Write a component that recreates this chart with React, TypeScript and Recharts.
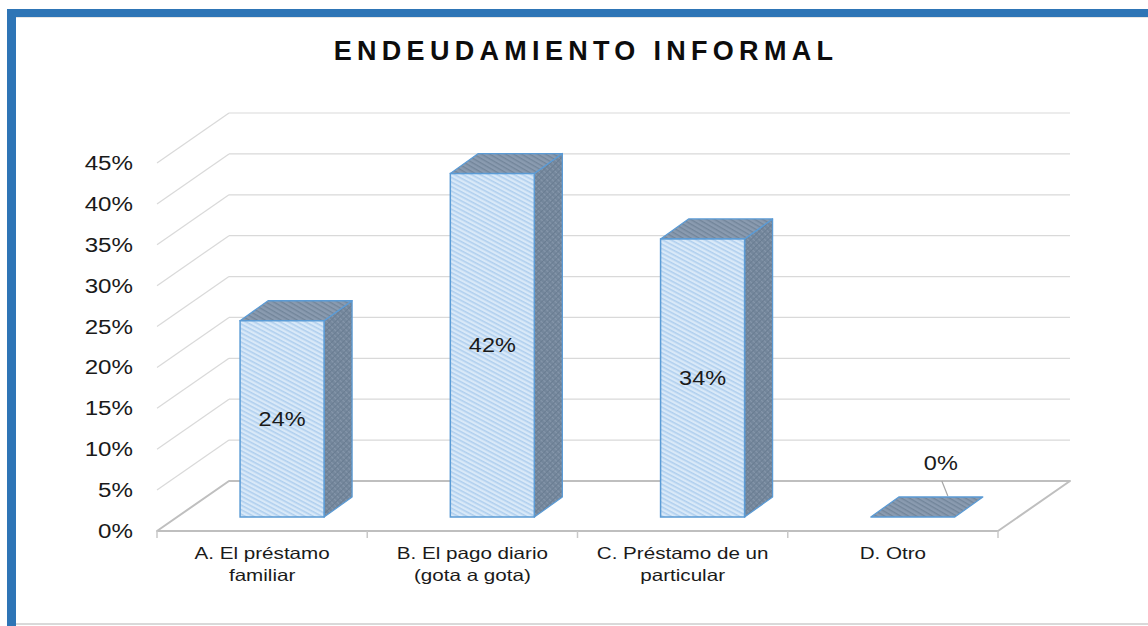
import { BarChart, Bar, XAxis, YAxis, CartesianGrid } from "recharts";

const FONT = '"Liberation Sans", Arial, sans-serif';

const categories = [
  "A. El préstamo\nfamiliar",
  "B. El pago diario\n(gota a gota)",
  "C. Préstamo de un\nparticular",
  "D. Otro",
];
const values = [0.24, 0.42, 0.34, 0];
const yTicks = [0, 0.05, 0.1, 0.15, 0.2, 0.25, 0.3, 0.35, 0.4, 0.45];

const rows = categories.map((cat, i) => ({ cat, value: values[i] }));

// 3D projection: full depth of the walls, and where the boxes sit inside it
const WALL_DX = 72;
const WALL_DY = -50;
const FRONT_DX = 20;
const FRONT_DY = -14;
const BOX_DX = 28;
const BOX_DY = -20;

const CHART_W = 1148;
const CHART_H = 626;
const X_AXIS_H = 60;
const MARGIN = { top: 163, right: 150, bottom: 35, left: 97 };
const PLOT_BOTTOM = CHART_H - MARGIN.bottom - X_AXIS_H;

const pct = (v: number) => `${Math.round(v * 100)}%`;

function WallLine(props: any) {
  const { x1, y1, x2, y2, index } = props;
  const isFloor = Math.abs(y1 - PLOT_BOTTOM) < 1;
  if (isFloor) {
    return (
      <g key={`floor-${index}`}>
        <polygon
          points={`${x1},${y1} ${x1 + WALL_DX},${y1 + WALL_DY} ${x2 + WALL_DX},${y2 + WALL_DY} ${x2},${y2}`}
          fill="#ffffff"
          stroke="#bfbfbf"
          strokeWidth={2}
          strokeLinejoin="round"
        />
      </g>
    );
  }
  return (
    <g key={`grid-${index}`}>
      <line x1={x1} y1={y1} x2={x1 + WALL_DX} y2={y1 + WALL_DY} stroke="#d9d9d9" strokeWidth={1.2} />
      <line
        x1={x1 + WALL_DX}
        y1={y1 + WALL_DY}
        x2={x2 + WALL_DX}
        y2={y2 + WALL_DY}
        stroke="#d9d9d9"
        strokeWidth={1.2}
      />
    </g>
  );
}

function YTick({ x, y, payload }: any) {
  return (
    <text
      transform={`translate(${x},${y}) scale(1.15,1)`}
      textAnchor="end"
      dominantBaseline="central"
      fontSize={21}
      fontFamily={FONT}
      fill="#1a1a1a"
    >
      {pct(payload.value)}
    </text>
  );
}

function XTick({ x, y, payload, index }: any) {
  const lines = String(payload.value).split("\n");
  const half = payload.offset || 105;
  return (
    <g>
      <line x1={x - half} x2={x - half} y1={y} y2={y + 7} stroke="#c8c8c8" strokeWidth={1.5} />
      {index === categories.length - 1 && (
        <line x1={x + half} x2={x + half} y1={y} y2={y + 7} stroke="#c8c8c8" strokeWidth={1.5} />
      )}
      {lines.map((line, i) => (
        <text
          key={i}
          transform={`translate(${x},${y + 22 + i * 22}) scale(1.25,1)`}
          textAnchor="middle"
          dominantBaseline="central"
          fontSize={16.5}
          fontFamily={FONT}
          fill="#1a1a1a"
        >
          {line}
        </text>
      ))}
    </g>
  );
}

function Box3D(props: any) {
  const { x, y, width: w, height, index } = props;
  const h = height || 0;
  const fx = x + FRONT_DX;
  const fy = y + FRONT_DY;
  const v = values[index];
  const cx = fx + w / 2;
  const stroke = "#5b9bd5";

  const top = `${fx},${fy} ${fx + BOX_DX},${fy + BOX_DY} ${fx + w + BOX_DX},${fy + BOX_DY} ${fx + w},${fy}`;

  if (h < 0.5) {
    return (
      <g>
        <polygon points={top} fill="url(#hatchTop)" stroke={stroke} strokeWidth={1.3} strokeLinejoin="round" />
        <line x1={cx + 29} y1={fy - 36} x2={cx + 35} y2={fy - 21} stroke="#a6a6a6" strokeWidth={1.2} />
        <text
          transform={`translate(${cx + 28},${fy - 54}) scale(1.12,1)`}
          textAnchor="middle"
          dominantBaseline="central"
          fontSize={21}
          fontFamily={FONT}
          fill="#1a1a1a"
        >
          {pct(v)}
        </text>
      </g>
    );
  }

  const side = `${fx + w},${fy} ${fx + w + BOX_DX},${fy + BOX_DY} ${fx + w + BOX_DX},${fy + h + BOX_DY} ${fx + w},${fy + h}`;
  return (
    <g>
      <polygon points={side} fill="url(#hatchSide)" stroke={stroke} strokeWidth={1.3} strokeLinejoin="round" />
      <polygon points={top} fill="url(#hatchTop)" stroke={stroke} strokeWidth={1.3} strokeLinejoin="round" />
      <rect x={fx} y={fy} width={w} height={h} fill="url(#hatchFront)" stroke={stroke} strokeWidth={1.5} />
      <text
        transform={`translate(${cx},${fy + h / 2}) scale(1.12,1)`}
        textAnchor="middle"
        dominantBaseline="central"
        fontSize={21}
        fontFamily={FONT}
        fill="#1a1a1a"
      >
        {pct(v)}
      </text>
    </g>
  );
}

function Patterns() {
  return (
    <svg width={0} height={0} style={{ position: "absolute" }}>
      <defs>
        <pattern id="hatchFront" width={4} height={4} patternUnits="userSpaceOnUse" patternTransform="rotate(28)">
          <rect width={4} height={4} fill="#d9e9f8" />
          <rect width={4} height={1.6} fill="#b0cfee" />
        </pattern>
        <pattern id="hatchSide" width={4} height={4} patternUnits="userSpaceOnUse" patternTransform="rotate(45)">
          <rect width={4} height={4} fill="#73869b" />
          <rect width={4} height={1.2} fill="#8697ab" />
          <rect width={1} height={4} fill="#6a7d92" />
        </pattern>
        <pattern id="hatchTop" width={4} height={4} patternUnits="userSpaceOnUse" patternTransform="rotate(30)">
          <rect width={4} height={4} fill="#8a9bb0" />
          <rect width={4} height={1.4} fill="#72859a" />
        </pattern>
      </defs>
    </svg>
  );
}

export default function App() {
  return (
    <div
      style={{
        position: "absolute",
        left: 0,
        top: 0,
        width: CHART_W,
        height: CHART_H,
        background: "#ffffff",
        overflow: "hidden",
      }}
    >
      <Patterns />
      {/* frame */}
      <div style={{ position: "absolute", left: 7, top: 9, width: CHART_W - 7, height: 8, background: "#2e75b6" }} />
      <div style={{ position: "absolute", left: 7, top: 9, width: 9, height: CHART_H - 9, background: "#2e75b6" }} />
      <div style={{ position: "absolute", left: 16, top: 17, width: CHART_W - 16, height: 1, background: "#e6e6e6" }} />
      <div style={{ position: "absolute", left: 16, top: 623, width: CHART_W - 16, height: 1.5, background: "#d9d9d9" }} />

      <svg width={CHART_W} height={CHART_H} style={{ position: "absolute", left: 0, top: 0 }}>
        <text
          x={586}
          y={60}
          textAnchor="middle"
          fontSize={27}
          fontWeight="bold"
          letterSpacing={5.3}
          fontFamily={FONT}
          fill="#0d0d0d"
        >
          ENDEUDAMIENTO INFORMAL
        </text>
      </svg>

      <div style={{ position: "absolute", left: 0, top: 0 }}>
        <BarChart width={CHART_W} height={CHART_H} data={rows} margin={MARGIN} barCategoryGap="30%">
          <CartesianGrid vertical={false} horizontal={(p: any) => <WallLine {...p} />} />
          <XAxis
            dataKey="cat"
            axisLine={false}
            tickLine={false}
            tickSize={0}
            tickMargin={0}
            height={X_AXIS_H}
            interval={0}
            tick={<XTick />}
          />
          <YAxis
            domain={[0, 0.45]}
            ticks={yTicks}
            axisLine={false}
            tickLine={false}
            tickSize={0}
            tickMargin={24}
            width={60}
            interval={0}
            tick={<YTick />}
          />
          <Bar dataKey="value" shape={(p: any) => <Box3D {...p} />} isAnimationActive={false} />
        </BarChart>
      </div>
    </div>
  );
}
